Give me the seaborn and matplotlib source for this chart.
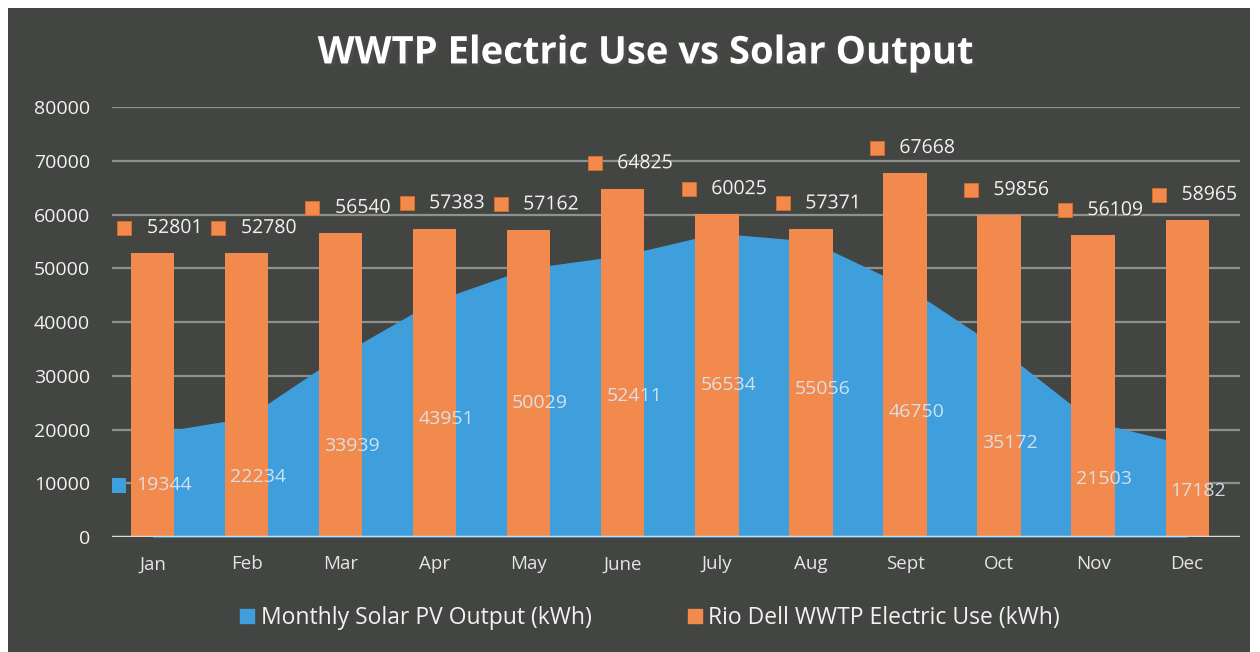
import numpy as np
import pandas as pd
import matplotlib
matplotlib.use("Agg")
import matplotlib.pyplot as plt
import matplotlib.patches as mpatches
import matplotlib.patheffects as pe
import seaborn as sns

# ── Data ──────────────────────────────────────────────────────────────────────
months = ["Jan", "Feb", "Mar", "Apr", "May", "June",
          "July", "Aug", "Sept", "Oct", "Nov", "Dec"]
solar_kwh = [19344, 22234, 33939, 43951, 50029, 52411,
             56534, 55056, 46750, 35172, 21503, 17182]
use_kwh = [52801, 52780, 56540, 57383, 57162, 64825,
           60025, 57371, 67668, 59856, 56109, 58965]
y_ticks = [0, 10000, 20000, 30000, 40000, 50000, 60000, 70000, 80000]

# ── Palette ───────────────────────────────────────────────────────────────────
BG     = "#424541"
ORANGE = "#f2894d"
BLUE   = "#3f9edc"
GRID   = "#8e918c"
TEXT   = "#f2f2f2"

sns.set_theme(style="dark")
plt.rcParams["font.family"] = ["Open Sans", "DejaVu Sans"]

fig = plt.figure(figsize=(12.6, 6.52), dpi=100, facecolor="white")
fig.patches.append(mpatches.Rectangle((0.006, 0.0), 0.986, 0.988,
                                      transform=fig.transFigure,
                                      facecolor=BG, edgecolor="none", zorder=-10))
ax = fig.add_axes([0.089, 0.176, 0.895, 0.66])
ax.set_facecolor("none")

df = pd.DataFrame({"month": months, "solar": solar_kwh, "use": use_kwh})
x = np.arange(len(months))

# solar area behind the bars (label keys blend into the area)
ax.fill_between(x, 0, df["solar"], color=BLUE, linewidth=0, zorder=1)
ax.scatter(x - 0.36, df["solar"] * 0.5, marker="s", s=110, color=BLUE,
           edgecolor="none", zorder=1.5)

sns.barplot(data=df, x="month", y="use", color=ORANGE, saturation=1,
            width=0.46, ax=ax, zorder=2, edgecolor="none")

# labels for the electric use bars
ax.scatter(x - 0.3, df["use"] + 4700, marker="s", s=100, color=ORANGE,
           edgecolor="#e07020", linewidth=0.6, zorder=4)
for i, v in enumerate(df["use"]):
    ax.text(i - 0.06, v + 4700, f"{v}", ha="left", va="center",
            fontsize=14, color=TEXT, zorder=5,
            path_effects=[pe.withSimplePatchShadow(offset=(1, -1), alpha=0.6)])

# labels for the solar area
for i, v in enumerate(df["solar"]):
    ax.text(i + 0.12, v * 0.5, f"{v}", ha="center", va="center",
            fontsize=14, color="#dce9f4", alpha=0.9, zorder=5)

ax.set_xlim(-0.43, 11.56)
ax.set_ylim(0, 80000)
ax.set_yticks(y_ticks)
ax.set_yticklabels([str(t) for t in y_ticks], fontsize=14, color=TEXT)
ax.tick_params(axis="y", pad=16, length=0)
ax.tick_params(axis="x", labelsize=13.5, labelcolor="#e6e6e6", pad=13, length=0)
ax.set_xlabel("")
ax.set_ylabel("")
for t in y_ticks[1:]:
    ax.axhline(t, color=GRID, linewidth=1.6, zorder=0.5)
ax.axhline(0, color="#d9d9d9", linewidth=2.5, zorder=3)
for s in ax.spines.values():
    s.set_visible(False)
ax.grid(False)

fig.text(0.513, 0.918, "WWTP Electric Use vs Solar Output", ha="center",
         va="center", fontsize=27.5, fontweight="bold", color="white",
         path_effects=[pe.withSimplePatchShadow(offset=(2, -2), alpha=0.8)])

handles = [mpatches.Patch(color=BLUE, label="Monthly Solar PV Output (kWh)"),
           mpatches.Patch(color=ORANGE, label="Rio Dell WWTP Electric Use (kWh)")]
leg = fig.legend(handles=handles, loc="center", bbox_to_anchor=(0.516, 0.052),
                 ncol=2, frameon=False, fontsize=16.5, handlelength=0.6,
                 handleheight=0.6, handletextpad=0.3, columnspacing=4.2)
for t in leg.get_texts():
    t.set_color(TEXT)

fig.savefig("out.png", dpi=100, facecolor="white")
